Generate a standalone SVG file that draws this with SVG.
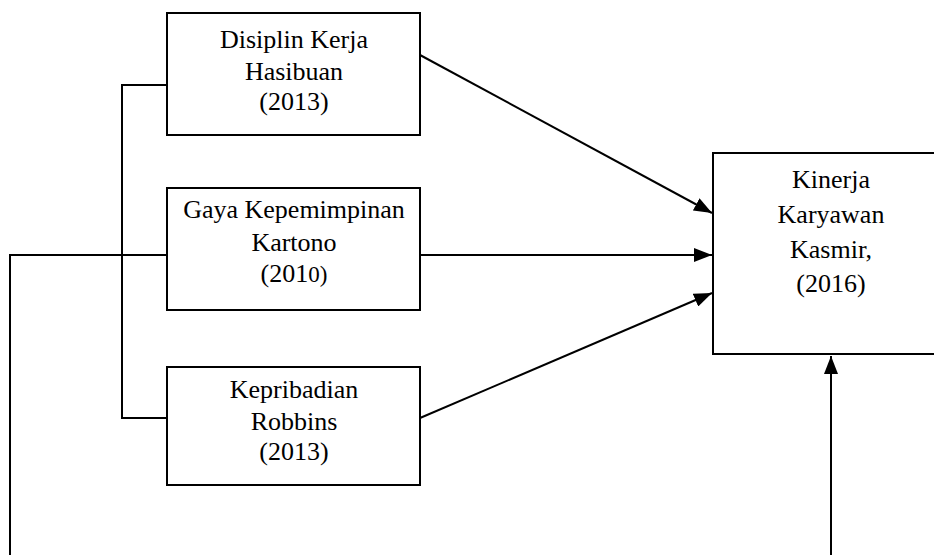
<svg xmlns="http://www.w3.org/2000/svg" width="934" height="555" viewBox="0 0 934 555">
<style>
.box{fill:#fff;stroke:#000;stroke-width:2}
.ln{fill:none;stroke:#000;stroke-width:2}
text{font-family:"Liberation Serif","Times New Roman",serif;font-size:26px;fill:#000;text-anchor:middle}
</style>
<defs>
<marker id="ah" markerWidth="9" markerHeight="7" refX="9" refY="3.5" orient="auto" markerUnits="strokeWidth">
<path d="M0,0 L9,3.5 L0,7 Z" fill="#000"/>
</marker>
</defs>
<rect width="934" height="555" fill="#fff"/>
<g id="connectors">
<path class="ln" d="M167,85 H122 V418 H167"/>
<path class="ln" d="M10,555 V255 H167"/>
<line class="ln" x1="420" y1="55" x2="712" y2="213" marker-end="url(#ah)"/>
<line class="ln" x1="420" y1="255" x2="712" y2="255" marker-end="url(#ah)"/>
<line class="ln" x1="420" y1="418" x2="712" y2="293" marker-end="url(#ah)"/>
<line class="ln" x1="831" y1="555" x2="831" y2="356" marker-end="url(#ah)"/>
</g>
<g id="disiplin">
<rect class="box" x="167" y="13" width="253" height="122"/>
<text x="294" y="48">Disiplin Kerja</text>
<text x="294" y="80">Hasibuan</text>
<text x="294" y="110">(2013)</text>
</g>
<g id="gaya">
<rect class="box" x="167" y="188" width="253" height="122"/>
<text x="294" y="218">Gaya Kepemimpinan</text>
<text x="294" y="251">Kartono</text>
<text x="294" y="282">(201<tspan font-size="23">0)</tspan></text>
</g>
<g id="kepribadian">
<rect class="box" x="167" y="367" width="253" height="118"/>
<text x="294" y="398">Kepribadian</text>
<text x="294" y="430">Robbins</text>
<text x="294" y="460">(2013)</text>
</g>
<g id="kinerja">
<rect class="box" x="713" y="153" width="236" height="201"/>
<text x="831" y="188">Kinerja</text>
<text x="831" y="223">Karyawan</text>
<text x="831" y="258">Kasmir,</text>
<text x="831" y="292">(2016)</text>
</g>
</svg>
